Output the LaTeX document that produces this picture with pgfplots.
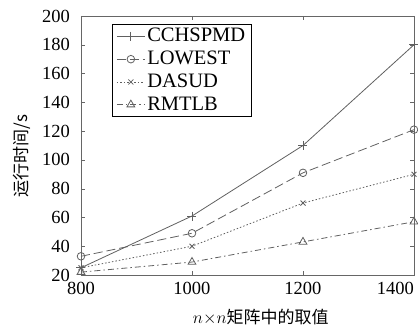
\documentclass[border=0pt]{standalone}
\usepackage{pgfplots}
\pgfplotsset{compat=1.18}
\usepackage{fontspec}
\setmainfont{Liberation Serif}
\newfontfamily\cjk{Noto Sans CJK SC}
\begin{document}
\fontsize{18pt}{21pt}\selectfont
\begin{tikzpicture}
\begin{axis}[
  scale only axis,
  width=333pt, height=259pt,
  xmin=800, xmax=1400, ymin=20, ymax=200,
  xtick={800,1000,1200,1400},
  xticklabels={800,1000,1200,\makebox[0pt][r]{1400}},
  ytick={20,40,...,200},
  tick align=inside,
  major tick length=4pt,
  axis line style={draw=gray!80!black, line width=0.8pt},
  tick style={gray!80!black},
  /pgf/number format/assume math mode=true,
  /pgf/number format/1000 sep={},
  tick label style={font=\fontsize{18.5pt}{21pt}\selectfont},
  yticklabel style={xshift=-5pt},
  xticklabel style={yshift=-1pt},
  xlabel={\fontsize{17pt}{19pt}\selectfont$n{\times}n$\cjk 矩阵中的取值},
  xlabel style={at={(axis description cs:0.54,0)}, anchor=north, yshift=-28pt},
  ylabel={\cjk\fontsize{17pt}{19pt}\selectfont 运行时间/s},
  every axis y label/.style={at={(axis description cs:-0.177,0.46)}, anchor=center, rotate=90},
  legend style={at={(axis description cs:0.093,0.97)}, anchor=north west,
    font=\fontsize{20.5pt}{20pt}\selectfont, draw=black, line width=1pt,
    nodes={inner sep=2pt},
    inner xsep=4pt, inner ysep=2pt, row sep=2.5pt, legend cell align=left},
  legend image code/.code={\draw[mark repeat=2,mark phase=2] plot coordinates {(0pt,0pt) (14pt,0pt) (28pt,0pt)};},
  clip=false,
]
\addplot[gray!75!black, line width=0.8pt, mark=+, mark size=4.5pt, mark options={solid}]
  coordinates {(800,25) (1000,61) (1200,110) (1400,180)};
\addlegendentry{CCHSPMD}
\addplot[gray!75!black, line width=0.8pt, dash pattern=on 9pt off 4pt, mark=o, mark size=3.8pt, mark options={solid}]
  coordinates {(800,33) (1000,49) (1200,91) (1400,121)};
\addlegendentry{LOWEST}
\addplot[gray!75!black, line width=0.8pt, dash pattern=on 1.5pt off 2pt, mark=x, mark size=3.5pt, mark options={solid}]
  coordinates {(800,25) (1000,40) (1200,70) (1400,90)};
\addlegendentry{DASUD}
\addplot[gray!75!black, line width=0.8pt, dash pattern=on 6pt off 3pt on 1.5pt off 3pt, mark=triangle, mark size=4.5pt, mark options={solid}]
  coordinates {(800,22) (1000,29) (1200,43) (1400,57)};
\addlegendentry{RMTLB}
\end{axis}
\pgfresetboundingbox
\path (-81pt,-51pt) rectangle (337pt,275pt);
\end{tikzpicture}
\end{document}
